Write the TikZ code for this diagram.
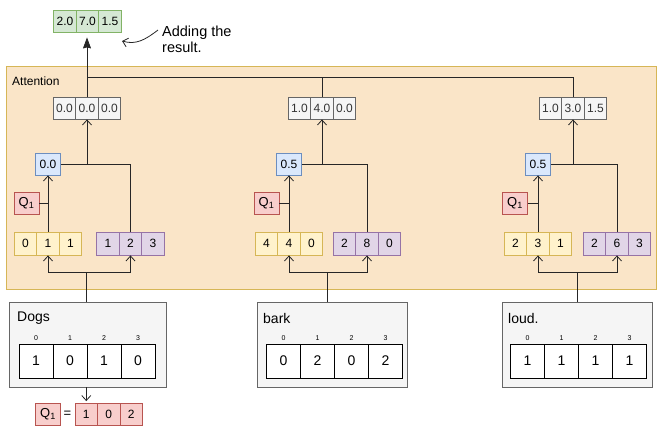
\documentclass[tikz,border=0pt]{standalone}
\usepackage{fontspec}
\setmainfont{Liberation Sans}
\usetikzlibrary{arrows.meta,calc}
\definecolor{yelF}{HTML}{FFF2CC}\definecolor{yelD}{HTML}{D6B656}
\definecolor{purF}{HTML}{E1D5E7}\definecolor{purD}{HTML}{9673A6}
\definecolor{redF}{HTML}{F8CECC}\definecolor{redD}{HTML}{B85450}
\definecolor{bluF}{HTML}{DAE8FC}\definecolor{bluD}{HTML}{6C8EBF}
\definecolor{grnF}{HTML}{D5E8D4}\definecolor{grnD}{HTML}{82B366}
\definecolor{gryF}{HTML}{F5F5F5}\definecolor{gryD}{HTML}{666666}
\definecolor{attF}{HTML}{FAE5C8}\definecolor{attD}{HTML}{D6B656}
\newcommand\trio[7]{%
  \node[#2] (#1a) at (#3-22.5,#4) {#5};
  \node[#2] (#1b) at (#3,#4) {#6};
  \node[#2] (#1c) at (#3+22.5,#4) {#7};}
\newcommand\wordtab[6]{%
  \node[wcell] (#1a) at (#2+17,361) {#3};
  \node[wcell] (#1b) at (#2+51,361) {#4};
  \node[wcell] (#1c) at (#2+85,361) {#5};
  \node[wcell] (#1d) at (#2+119,361) {#6};
  \node[idx] (#1ia) at (#1a.north) {0};
  \node[idx] (#1ib) at (#1b.north) {1};
  \node[idx] (#1ic) at (#1c.north) {2};
  \node[idx] (#1id) at (#1d.north) {3};}
\begin{document}
\begin{tikzpicture}[x=1pt,y=-1pt,
  cellbase/.style={draw, minimum width=22.5pt, minimum height=22pt, inner sep=0pt,
     font=\fontsize{12}{12}\selectfont, line width=0.8pt},
  ycell/.style={cellbase, fill=yelF, draw=yelD, minimum height=23pt},
  pcell/.style={cellbase, fill=purF, draw=purD, minimum height=23pt},
  rcell/.style={cellbase, fill=redF, draw=redD},
  qbox/.style={cellbase, fill=redF, draw=redD, minimum width=25pt, font=\fontsize{13}{13}\selectfont},
  bbox/.style={cellbase, fill=bluF, draw=bluD, minimum width=25pt},
  gcell/.style={cellbase, fill=gryF, draw=gryD, text=black!80},
  ncell/.style={cellbase, fill=grnF, draw=grnD},
  wbox/.style={draw=gryD, fill=gryF, line width=0.9pt, inner sep=0pt},
  wcell/.style={draw=black, fill=white, line width=0.9pt, minimum width=34pt,
     minimum height=34pt, inner sep=0pt, font=\fontsize{14}{14}\selectfont},
  idx/.style={font=\fontsize{7}{7}\selectfont, anchor=south, inner sep=0pt, yshift=3pt},
  wire/.style={line width=0.8pt, draw=black!85},
  arr/.style={wire, -{Straight Barb[length=5pt,width=9pt]}},
  toparr/.style={wire, -{Stealth[length=11pt,width=8pt,inset=1pt]}, shorten >=5pt},
  lbl/.style={font=\fontsize{14}{14}\selectfont, anchor=west, inner sep=0pt}
]
\useasboundingbox (0,0) rectangle (660,432);
% attention box
\node[draw=attD, fill=attF, line width=1pt, minimum width=650pt, minimum height=223pt, inner sep=0pt] (att) at (331,177.5) {};
\node[anchor=west, inner sep=0pt, font=\fontsize{12}{12}\selectfont] (attl) at (12,81) {Attention};
% result
\trio{n}{ncell}{87.5}{21}{2.0}{7.0}{1.5}
\node[anchor=west, align=left, inner sep=0pt, font=\fontsize{14.5}{16}\selectfont] (note) at (162,39) {Adding the\\result.};
\draw[wire, -{Straight Barb[length=5pt,width=9pt]}] (note.west) ++(-4,-9) coordinate (nstart)
   .. controls (145,40) and (136,45) .. (122,41);
% gray results
\trio{gL}{gcell}{87}{108}{0.0}{0.0}{0.0}
\trio{gM}{gcell}{322}{108}{1.0}{4.0}{0.0}
\trio{gR}{gcell}{573}{108}{1.0}{3.0}{1.5}
% blue
\node[bbox] (bL) at (48,164) {0.0};
\node[bbox] (bM) at (289,164) {0.5};
\node[bbox] (bR) at (538,164) {0.5};
% Q1
\node[qbox] (qL) at (26.5,203.5) {Q\textsubscript{1}};
\node[qbox] (qM) at (266.5,203.5) {Q\textsubscript{1}};
\node[qbox] (qR) at (515,203.5) {Q\textsubscript{1}};
% yellow / purple
\trio{yL}{ycell}{48}{243.5}{0}{1}{1}
\trio{pL}{pcell}{130.5}{243.5}{1}{2}{3}
\trio{yM}{ycell}{289}{243.5}{4}{4}{0}
\trio{pM}{pcell}{367}{243.5}{2}{8}{0}
\trio{yR}{ycell}{538}{243.5}{2}{3}{1}
\trio{pR}{pcell}{617}{243.5}{2}{6}{3}
% word boxes
\node[wbox, minimum width=157pt, minimum height=85pt] (dogs) at (87.5,344.5) {};
\node[wbox, minimum width=150pt, minimum height=85pt] (bark) at (332,344.5) {};
\node[wbox, minimum width=150pt, minimum height=85pt] (loud) at (577,344.5) {};
\node[lbl] (dogsl) at (17,318) {Dogs};
\node[lbl] (barkl) at (263,318) {bark};
\node[lbl] (loudl) at (508,318) {loud.};
\wordtab{dT}{19}{1}{0}{1}{0}
\wordtab{bT}{266.5}{0}{2}{0}{2}
\wordtab{lT}{510.5}{1}{1}{1}{1}
% equation
\node[qbox] (q0) at (48,414.5) {Q\textsubscript{1}};
\node[inner sep=0pt, font=\fontsize{13}{13}\selectfont] (eq) at (67.5,414.5) {=};
\node[rcell] (r1) at (86.25,414.5) {1};
\node[rcell] (r2) at (108.75,414.5) {0};
\node[rcell] (r3) at (131.25,414.5) {2};
\draw[arr, shorten >=2pt] (dogs.south -| r1.north) -- (r1.north);
% top wires
\coordinate (top) at (87,77);
\draw[toparr] (gLb.north) -- (gLb.north |- nb.south);
\draw[wire] (top) -| (gRb.north);
\draw[wire] (gMb.north) -- (gMb.north |- top);
% per-column wiring
\foreach \c/\jx in {L/86,M/327,R/577}{
  \coordinate (bj\c) at (g\c b.south |- b\c.east);
  \draw[wire] (b\c.east) -| (p\c b.north);
  \draw[arr] (bj\c) -- (g\c b.south);
  \draw[arr] (y\c b.north) -- (y\c b.north |- b\c.south);
  \draw[wire] (q\c.east) -- (q\c.east -| y\c b.north);
  \coordinate (j\c) at (\jx,272);
  \draw[arr] (j\c) -| (y\c b.south);
  \draw[arr] (j\c) -| (p\c b.south);
}
\draw[wire] (jL) -- (jL |- dogs.north);
\draw[wire] (jM) -- (jM |- bark.north);
\draw[wire] (jR) -- (jR |- loud.north);
\end{tikzpicture}
\end{document}
